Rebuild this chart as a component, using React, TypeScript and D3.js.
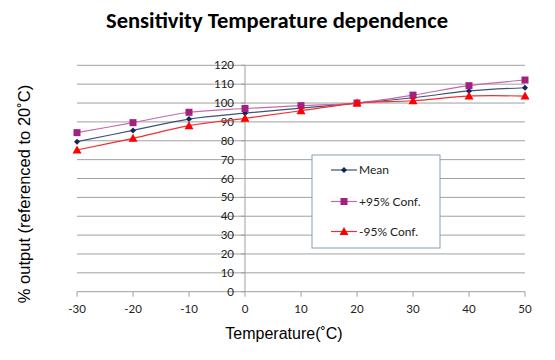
import React from "react";
import * as d3 from "d3";

const temps = [-30, -20, -10, 0, 10, 20, 30, 40, 50];
const meanVals = [79.5, 85.5, 91.5, 94.6, 97.3, 100, 102.8, 106.4, 108.1];
const upperVals = [84.3, 89.6, 95.1, 97.1, 98.6, 100, 104.2, 109.2, 112.2];
const lowerVals = [75.1, 81.3, 88.0, 91.9, 95.9, 100, 101.2, 103.7, 103.7];
const yTicks = [0, 10, 20, 30, 40, 50, 60, 70, 80, 90, 100, 110, 120];
const xTicks = [-30, -20, -10, 0, 10, 20, 30, 40, 50];
const seriesNames = ["Mean", "+95% Conf.", "-95% Conf."];

const W = 555, H = 360;
const x = d3.scaleLinear().domain([-30, 50]).range([77, 525]);
const y = d3.scaleLinear().domain([0, 120]).range([291.7, 65.3]);

const font = "Lato, 'Open Sans', sans-serif";
const narrow = "'Liberation Sans Narrow', 'Arial Narrow', 'Liberation Sans', sans-serif";

const series = [
  { name: seriesNames[0], vals: meanVals, line: "#3b5378", mark: "#10265a", shape: "diamond" },
  { name: seriesNames[1], vals: upperVals, line: "#c46aa8", mark: "#a3207e", shape: "square" },
  { name: seriesNames[2], vals: lowerVals, line: "#f03030", mark: "#ff0000", shape: "triangle" },
];

function Marker({ cx, cy, shape, color }: { cx: number; cy: number; shape: string; color: string }) {
  if (shape === "diamond") {
    const s = 3;
    return <path d={`M${cx},${cy - s}L${cx + s},${cy}L${cx},${cy + s}L${cx - s},${cy}Z`} fill={color} />;
  }
  if (shape === "square") {
    return <rect x={cx - 3.5} y={cy - 3.5} width={7} height={7} fill={color} />;
  }
  return <path d={`M${cx},${cy - 4.5}L${cx + 4.5},${cy + 3.5}L${cx - 4.5},${cy + 3.5}Z`} fill={color} />;
}

export default function App() {
  const lineGen = d3
    .line<number>()
    .x((_, i) => x(temps[i]))
    .y((d) => y(d))
    .curve(d3.curveCatmullRom.alpha(0.5));

  const legendX = 312, legendY = 155, legendW = 128, legendH = 93;
  const legendRows = [170, 201.5, 231.5];

  return (
    <svg width={W} height={H} style={{ position: "absolute", left: 0, top: 0, background: "#fff" }}>
      <rect x={0} y={0} width={W} height={H} fill="#fff" />
      <text x={277} y={28} textAnchor="middle" fontFamily="Carlito, Lato, 'Open Sans', sans-serif" fontWeight="bold" fontSize={22.5} fill="#000" textLength={342} lengthAdjust="spacingAndGlyphs">
        Sensitivity Temperature dependence
      </text>

      {/* gridlines */}
      {yTicks.map((t) => (
        <line key={t} x1={x(-30)} x2={x(50)} y1={y(t)} y2={y(t)} stroke="#a0a0a0" strokeWidth={1} />
      ))}
      {/* y-axis at x=0 */}
      <line x1={x(0)} x2={x(0)} y1={y(0)} y2={y(120)} stroke="#a0a0a0" strokeWidth={1} />
      {yTicks.map((t) => (
        <line key={"yt" + t} x1={x(0) - 4} x2={x(0)} y1={y(t)} y2={y(t)} stroke="#a0a0a0" />
      ))}
      {yTicks.map((t) => (
        <text key={"yl" + t} x={x(0) - 11} y={y(t) + 4} textAnchor="end" fontFamily={font} fontSize={11.5} fill="#222">
          {t}
        </text>
      ))}

      {/* x axis ticks */}
      {xTicks.map((t) => (
        <line key={"xt" + t} x1={x(t)} x2={x(t)} y1={y(0)} y2={y(0) + 5} stroke="#a0a0a0" />
      ))}
      {xTicks.map((t) => (
        <text key={"xl" + t} x={x(t)} y={313} textAnchor="middle" fontFamily={font} fontSize={11.5} fill="#222">
          {t}
        </text>
      ))}

      {/* series */}
      {series.map((s) => (
        <g key={s.name}>
          <path d={lineGen(s.vals) || ""} fill="none" stroke={s.line} strokeWidth={1.2} />
          {s.vals.map((v, i) => (
            <Marker key={i} cx={x(temps[i])} cy={y(v)} shape={s.shape} color={s.mark} />
          ))}
        </g>
      ))}

      {/* legend */}
      <rect x={legendX} y={legendY} width={legendW} height={legendH} fill="#fff" stroke="#8a9bb5" strokeWidth={1} />
      {series.map((s, i) => (
        <g key={"lg" + s.name}>
          <line x1={331} x2={357} y1={legendRows[i]} y2={legendRows[i]} stroke={s.line} strokeWidth={1.2} />
          <Marker cx={344} cy={legendRows[i]} shape={s.shape} color={s.mark} />
          <text x={359} y={legendRows[i] + 4} fontFamily={font} fontSize={12} fill="#222">
            {s.name}
          </text>
        </g>
      ))}

      {/* axis titles */}
      <text x={284} y={339} textAnchor="middle" fontFamily={narrow} fontSize={16} fill="#000">
        Temperature(˚C)
      </text>
      <text
        transform={`translate(30,194) rotate(-90)`}
        textAnchor="middle"
        fontFamily={narrow}
        fontSize={16.5}
        fill="#000"
      >
        % output (referenced to 20˚C)
      </text>
    </svg>
  );
}
